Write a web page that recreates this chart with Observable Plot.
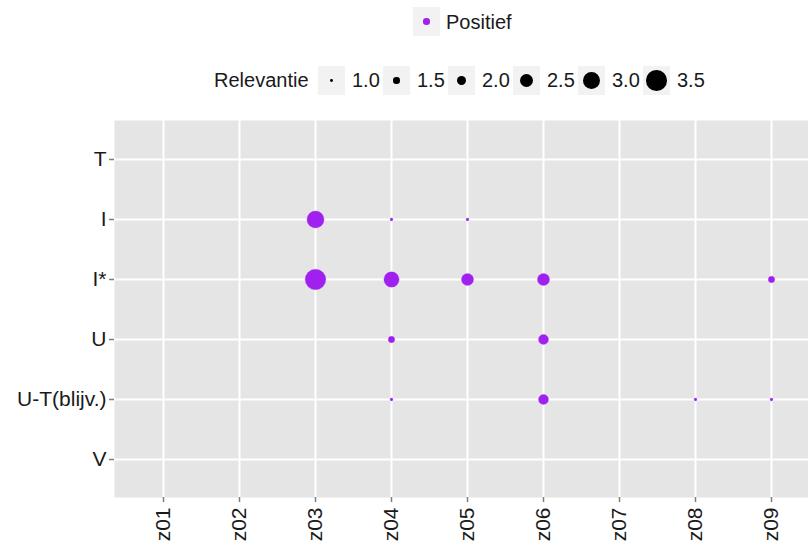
<!DOCTYPE html>
<html>
<head>
<meta charset="utf-8">
<script src="https://cdn.jsdelivr.net/npm/d3@7"></script>
<script src="https://cdn.jsdelivr.net/npm/@observablehq/plot@0.6"></script>
<style>
  html, body { margin: 0; padding: 0; background: white; overflow: hidden; width: 808px; height: 547px; }
  body { font-family: "Liberation Sans", Arial, sans-serif; position: relative; }
  #legend { position: relative; height: 120px; width: 808px; }
  .key { position: absolute; background: #F2F2F2; width: 27px; height: 29px; display: flex; align-items: center; justify-content: center; }
  .lab { position: absolute; font-size: 20px; color: #1a1a1a; line-height: 1; transform: translateY(-50%); white-space: nowrap; }
  #chart svg { max-width: none !important; display: block; }
</style>
</head>
<body>
<div id="legend"></div>
<div id="chart"></div>
<script>
const categories = ["z01", "z02", "z03", "z04", "z05", "z06", "z07", "z08", "z09"];
const levels = ["T", "I", "I*", "U", "U-T(blijv.)", "V"];
const sizeBreaks = [1.0, 1.5, 2.0, 2.5, 3.0, 3.5];
const sizeLabels = ["1.0", "1.5", "2.0", "2.5", "3.0", "3.5"];
const seriesName = "Positief";

const pointCategory = ["z03", "z04", "z05", "z03", "z04", "z05", "z06", "z09", "z04", "z06", "z04", "z06", "z08", "z09"];
const pointLevel = ["I", "I", "I", "I*", "I*", "I*", "I*", "I*", "U", "U", "U-T(blijv.)", "U-T(blijv.)", "U-T(blijv.)", "U-T(blijv.)"];
const relevantie = [3.0, 1.0, 1.0, 3.5, 2.75, 2.3, 2.3, 1.5, 1.5, 2.0, 1.0, 2.0, 1.0, 1.0];

const data = pointCategory.map((c, i) => ({z: c, lvl: pointLevel[i], rel: relevantie[i]}));

const purple = "#A020F0";

const plot = Plot.plot({
  width: 820,
  height: 427,
  marginLeft: 114,
  marginRight: 1,
  marginTop: 0,
  marginBottom: 50,
  style: {fontFamily: "Liberation Sans, Arial, sans-serif", background: "white", overflow: "visible"},
  x: {type: "point", domain: categories, padding: 0.6, label: null},
  y: {type: "point", domain: levels, padding: 0.6, label: null},
  r: {type: "linear", domain: [1, 3.5], range: [1.4, 10.3]},
  marks: [
    Plot.frame({fill: "#E5E5E5", stroke: null}),
    Plot.gridX({stroke: "white", strokeOpacity: 1, strokeWidth: 2}),
    Plot.gridY({stroke: "white", strokeOpacity: 1, strokeWidth: 2}),
    Plot.axisX({tickRotate: -90, tickSize: 5, tickPadding: 5, fontSize: 21, stroke: "#7F7F7F", strokeWidth: 1.5, fill: "#1a1a1a", label: null}),
    Plot.axisY({tickSize: 5, tickPadding: 3, fontSize: 21, stroke: "#7F7F7F", strokeWidth: 1.5, fill: "#1a1a1a", label: null}),
    Plot.dot(data, {x: "z", y: "lvl", r: "rel", fill: purple, stroke: purple, strokeOpacity: 0.5, strokeWidth: 0.6})
  ]
});
document.getElementById("chart").appendChild(plot);

// Legends (HTML above the SVG), sizes from the plot's r scale
const rScale = plot.scale("r");
const legend = document.getElementById("legend");
function addKey(left, top, r, color) {
  const k = document.createElement("div");
  k.className = "key";
  k.style.left = left + "px";
  k.style.top = top + "px";
  const d = document.createElement("div");
  d.style.width = (2 * r) + "px";
  d.style.height = (2 * r) + "px";
  d.style.borderRadius = "50%";
  d.style.background = color;
  k.appendChild(d);
  legend.appendChild(k);
}
function addLabel(left, cy, text) {
  const t = document.createElement("div");
  t.className = "lab";
  t.style.left = left + "px";
  t.style.top = cy + "px";
  t.textContent = text;
  legend.appendChild(t);
}
// colour legend
addKey(413, 7, 3.2, purple);
addLabel(446, 22, seriesName);
// size legend
addLabel(214, 80, "Relevantie");
sizeBreaks.forEach((v, i) => {
  const left = 318 + i * 65;
  addKey(left, 66, rScale.apply(v), "black");
  addLabel(left + 34, 80, sizeLabels[i]);
});
</script>
</body>
</html>
